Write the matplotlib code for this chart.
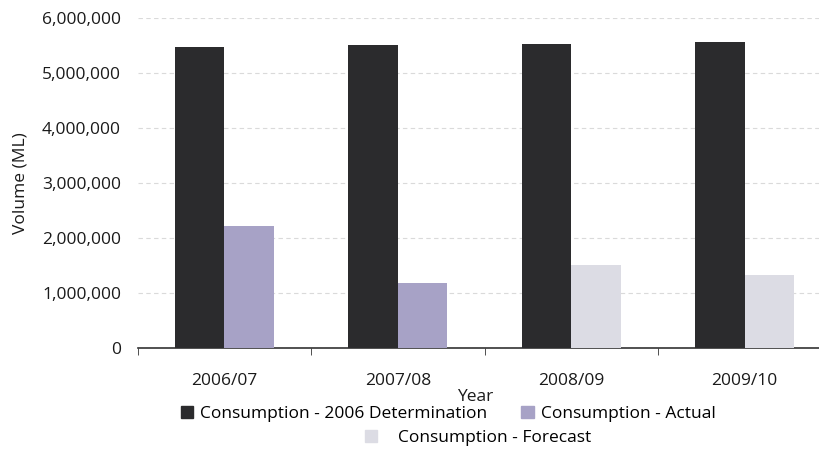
import matplotlib
matplotlib.use("Agg")
import matplotlib.pyplot as plt
import numpy as np
from matplotlib.patches import Patch
from matplotlib.ticker import FuncFormatter

plt.rcParams['font.family'] = ['Open Sans', 'DejaVu Sans']

years = ["2006/07", "2007/08", "2008/09", "2009/10"]
determination = [5470000, 5510000, 5530000, 5560000]
actual = [2220000, 1180000, np.nan, np.nan]
forecast = [np.nan, np.nan, 1510000, 1330000]

c_det = "#2b2b2d"
c_act = "#a7a2c6"
c_fc = "#dcdce4"

fig = plt.figure(figsize=(8.2, 4.51), dpi=100)
ax = fig.add_axes([0.168, 0.2284, 0.832, 0.7316])

x = np.arange(len(years))
w = 0.285
ax.bar(x - w / 2, determination, width=w, color=c_det, zorder=3)
ax.bar(x + w / 2, actual, width=w, color=c_act, zorder=3)
ax.bar(x + w / 2, forecast, width=w, color=c_fc, zorder=3)

ax.set_ylim(0, 6000000)
ax.set_xlim(-0.5, 3.435)
ax.set_yticks(np.arange(0, 6000001, 1000000))
ax.yaxis.set_major_formatter(FuncFormatter(lambda v, p: f"{int(v):,}"))
ax.set_xticks(x)
ax.set_xticklabels(years)
ax.set_xticks([-0.5, 0.5, 1.5, 2.5], minor=True)
ax.tick_params(axis='x', which='major', length=0, pad=18, labelsize=12.5, colors="#1a1a1a")
ax.tick_params(axis='x', which='minor', length=5, direction='out', color="#333333")
ax.tick_params(axis='y', length=0, pad=12, labelsize=12.5, colors="#1a1a1a")

for s in ['top', 'right', 'left']:
    ax.spines[s].set_visible(False)
ax.spines['bottom'].set_color("#333333")
ax.spines['bottom'].set_linewidth(1.2)

ax.yaxis.grid(True, color="#dadada", linestyle=(0, (4, 3)), linewidth=0.8, zorder=0)
ax.set_axisbelow(True)

ax.set_ylabel("Volume (ML)", fontsize=12.5, color="#1a1a1a", labelpad=10)
fig.text(475 / 820, 1 - 397 / 451, "Year", ha='center', va='center', fontsize=12.5, color="#1a1a1a")

h1 = [Patch(color=c_det, label="Consumption - 2006 Determination"),
      Patch(color=c_act, label="Consumption - Actual")]
fig.legend(handles=h1, loc='center', bbox_to_anchor=(448 / 820, 1 - 414 / 451), ncol=2,
           frameon=False, fontsize=12.5, handlelength=0.7, handleheight=0.7,
           handletextpad=0.4, columnspacing=2.0)
h2 = [Patch(color=c_fc, label="Consumption - Forecast")]
fig.legend(handles=h2, loc='center', bbox_to_anchor=(478 / 820, 1 - 438 / 451), ncol=1,
           frameon=False, fontsize=12.5, handlelength=0.7, handleheight=0.7, handletextpad=1.2)

fig.savefig("out.png", dpi=100)
